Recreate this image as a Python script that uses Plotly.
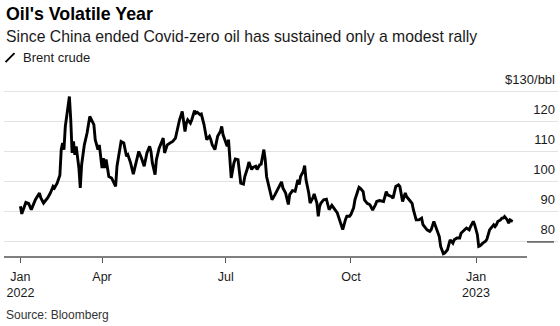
import plotly.graph_objects as go

# Brent crude, $/bbl
dates = [
    "2022-01-31", "2022-02-01", "2022-02-04", "2022-02-06", "2022-02-08", "2022-02-11",
    "2022-02-14", "2022-02-15", "2022-02-17", "2022-02-20", "2022-02-22", "2022-02-24",
    "2022-02-25", "2022-02-27", "2022-03-01", "2022-03-02", "2022-03-03", "2022-03-04",
    "2022-03-05", "2022-03-06", "2022-03-08", "2022-03-09", "2022-03-10", "2022-03-11",
    "2022-03-12", "2022-03-13", "2022-03-15", "2022-03-16", "2022-03-17", "2022-03-19",
    "2022-03-21", "2022-03-23", "2022-03-24", "2022-03-26", "2022-03-27", "2022-03-29",
    "2022-03-30", "2022-04-01", "2022-04-02", "2022-04-03", "2022-04-04", "2022-04-06",
    "2022-04-08", "2022-04-11", "2022-04-12", "2022-04-14", "2022-04-15", "2022-04-17",
    "2022-04-19", "2022-04-20", "2022-04-22", "2022-04-24", "2022-04-26", "2022-04-28",
    "2022-04-30", "2022-05-02", "2022-05-04", "2022-05-06", "2022-05-07", "2022-05-08",
    "2022-05-10", "2022-05-11", "2022-05-13", "2022-05-15", "2022-05-16", "2022-05-17",
    "2022-05-19", "2022-05-21", "2022-05-23", "2022-05-25", "2022-05-26", "2022-05-28",
    "2022-05-30", "2022-05-31", "2022-06-01", "2022-06-02", "2022-06-03", "2022-06-05",
    "2022-06-06", "2022-06-08", "2022-06-09", "2022-06-10", "2022-06-12", "2022-06-13",
    "2022-06-14", "2022-06-15", "2022-06-17", "2022-06-18", "2022-06-19", "2022-06-20",
    "2022-06-21", "2022-06-23", "2022-06-24", "2022-06-25", "2022-06-27", "2022-06-28",
    "2022-06-29", "2022-07-01", "2022-07-02", "2022-07-03", "2022-07-04", "2022-07-05",
    "2022-07-07", "2022-07-08", "2022-07-10", "2022-07-11", "2022-07-12", "2022-07-14",
    "2022-07-15", "2022-07-17", "2022-07-18", "2022-07-20", "2022-07-21", "2022-07-23",
    "2022-07-24", "2022-07-26", "2022-07-27", "2022-07-29", "2022-07-30", "2022-07-31",
    "2022-08-01", "2022-08-02", "2022-08-04", "2022-08-06", "2022-08-08", "2022-08-09",
    "2022-08-11", "2022-08-12", "2022-08-14", "2022-08-16", "2022-08-17", "2022-08-19",
    "2022-08-21", "2022-08-23", "2022-08-24", "2022-08-25", "2022-08-27", "2022-08-28",
    "2022-08-29", "2022-08-31", "2022-09-01", "2022-09-03", "2022-09-04", "2022-09-06",
    "2022-09-07", "2022-09-08", "2022-09-09", "2022-09-11", "2022-09-13", "2022-09-14",
    "2022-09-15", "2022-09-17", "2022-09-18", "2022-09-20", "2022-09-21", "2022-09-23",
    "2022-09-24", "2022-09-25", "2022-09-27", "2022-09-28", "2022-09-30", "2022-10-01",
    "2022-10-03", "2022-10-04", "2022-10-06", "2022-10-07", "2022-10-08", "2022-10-10",
    "2022-10-11", "2022-10-13", "2022-10-15", "2022-10-17", "2022-10-19", "2022-10-20",
    "2022-10-22", "2022-10-25", "2022-10-27", "2022-10-28", "2022-10-31", "2022-11-01",
    "2022-11-03", "2022-11-05", "2022-11-06", "2022-11-07", "2022-11-08", "2022-11-10",
    "2022-11-11", "2022-11-13", "2022-11-15", "2022-11-16", "2022-11-17", "2022-11-18",
    "2022-11-20", "2022-11-22", "2022-11-23", "2022-11-26", "2022-11-28", "2022-11-29",
    "2022-12-01", "2022-12-02", "2022-12-03", "2022-12-05", "2022-12-06", "2022-12-07",
    "2022-12-08", "2022-12-09", "2022-12-11", "2022-12-12", "2022-12-13", "2022-12-15",
    "2022-12-16", "2022-12-18", "2022-12-20", "2022-12-21", "2022-12-23", "2022-12-24",
    "2022-12-25", "2022-12-27", "2022-12-28", "2022-12-30", "2022-12-31", "2023-01-02",
    "2023-01-03", "2023-01-04", "2023-01-06", "2023-01-08", "2023-01-09", "2023-01-10",
    "2023-01-11", "2023-01-12", "2023-01-14", "2023-01-15", "2023-01-16", "2023-01-17",
    "2023-01-19", "2023-01-20", "2023-01-21", "2023-01-22", "2023-01-24", "2023-01-25",
    "2023-01-26", "2023-01-27", "2023-01-28",
]

brent = [
    91.8, 89.3, 93.1, 92.8, 90.7, 94.0,
    96.2, 94.6, 92.9, 94.6, 96.2, 98.4,
    97.9, 99.5, 102.1, 110.6, 112.8, 110.6,
    118.3, 121.6, 128.2, 120.5, 109.5, 113.3,
    108.9, 111.7, 104.5, 97.9, 105.6, 112.2,
    116.1, 121.6, 120.5, 118.9, 113.9, 110.6,
    112.2, 104.5, 107.8, 104.5, 107.3, 101.7,
    101.2, 98.4, 105.1, 110.0, 113.3, 112.8,
    108.4, 108.9, 106.2, 102.5, 106.2, 110.0,
    107.8, 105.1, 109.5, 111.7, 110.0, 106.2,
    102.3, 107.3, 111.1, 113.3, 114.4, 109.5,
    112.2, 112.8, 113.3, 114.4, 116.6, 120.5,
    123.3, 120.0, 116.6, 119.4, 120.5, 119.4,
    120.5, 123.5, 122.7, 123.0, 122.2, 122.4,
    120.5, 118.9, 113.9, 114.4, 115.0, 113.9,
    112.2, 110.6, 113.3, 115.0, 116.6, 118.3,
    115.5, 113.3, 111.7, 113.9, 105.6, 101.2,
    106.2, 107.5, 107.3, 102.3, 99.5, 99.2,
    101.7, 104.5, 106.5, 104.0, 104.7, 105.1,
    104.0, 105.6, 105.8, 110.6, 107.3, 101.7,
    99.5, 98.1, 94.0, 95.5, 97.3, 98.4,
    99.9, 97.9, 96.2, 92.4, 95.7, 97.0,
    96.8, 100.6, 99.0, 101.7, 103.4, 105.3,
    100.6, 96.2, 92.9, 94.6, 95.9, 92.9,
    88.5, 91.8, 92.9, 94.0, 94.2, 92.4,
    90.7, 92.1, 91.5, 90.4, 89.6, 86.8,
    85.7, 84.1, 87.4, 88.5, 88.5, 89.1,
    91.3, 94.0, 96.8, 98.1, 97.8, 96.7,
    93.9, 92.8, 92.3, 90.6, 92.3, 93.4,
    93.7, 93.4, 96.7, 95.6, 95.0, 94.5,
    98.4, 98.9, 98.4, 96.2, 93.4, 96.2,
    95.0, 93.9, 92.8, 90.6, 88.4, 87.3,
    87.3, 87.9, 85.7, 84.0, 83.5, 84.0,
    86.8, 85.7, 84.0, 81.8, 78.5, 76.9,
    76.1, 76.3, 77.4, 79.1, 80.7, 79.6,
    80.7, 81.3, 81.3, 82.9, 84.0, 84.2,
    84.6, 84.0, 85.1, 86.8, 85.7, 82.4,
    78.5, 78.7, 79.6, 80.2, 80.9, 82.9,
    84.0, 84.6, 85.7, 85.1, 85.7, 86.8,
    87.3, 87.9, 87.9, 88.4, 87.3, 86.2,
    87.3, 87.0, 86.8,
]

x_tick_dates = ["2022-01-31", "2022-04-01", "2022-07-01", "2022-10-01", "2023-01-01"]
x_tick_labels = ["Jan<br>2022", "Apr", "Jul", "Oct", "Jan<br>2023"]
y_tick_values = [80, 90, 100, 110, 120, 130]
y_tick_labels = ["80", "90", "100", "110", "120", "$130/bbl"]

title = "Oil's Volatile Year"
subtitle = "Since China ended Covid-zero oil has sustained only a modest rally"
series_name = "Brent crude"
source = "Source: Bloomberg"

# value range of the plot box; headroom above 130 leaves space for its label
Y_MIN, Y_MAX = 75, 138

# page geometry (pixels): 130 sits at y=91, 75 at y=257
W, H = 560, 326
PB = 257
PX_PER_UNIT = (257 - 91) / (130 - 75)
PT = PB - (Y_MAX - Y_MIN) * PX_PER_UNIT
PL, PR = 4, 558
AXIS_END = 527                      # where the baseline stops

FONT = "Liberation Sans, Arial, Helvetica, sans-serif"
INK = "#1a1a1a"


def fx(px):
    return (px - PL) / (PR - PL)


def fy(py):
    return (PB - py) / (PB - PT)


fig = go.Figure(
    go.Scatter(
        x=dates, y=brent, mode="lines", name=series_name,
        line=dict(color="#000000", width=2.9, shape="linear"),
        hoverinfo="skip",
    )
)

fig.update_layout(
    width=W, height=H,
    margin=dict(l=PL, r=W - PR, t=PT, b=H - PB, pad=0),
    paper_bgcolor="white", plot_bgcolor="white",
    showlegend=False,
    font=dict(family=FONT, color=INK),
)

fig.update_xaxes(
    type="date",
    range=["2022-01-18 22:00", "2023-03-02 07:00"],
    tickvals=x_tick_dates, ticktext=x_tick_labels,
    ticks="outside", ticklen=5, tickwidth=1, tickcolor="#555555",
    ticklabelstandoff=3,
    tickfont=dict(size=12.5, color=INK, family=FONT),
    showgrid=False, showline=False, zeroline=False,
    fixedrange=True,
)

fig.update_yaxes(
    range=[Y_MIN, Y_MAX], side="right",
    tickvals=y_tick_values, ticktext=y_tick_labels,
    ticklabelposition="inside top", ticks="",
    ticklabelshift=-3,
    tickfont=dict(size=13, color=INK, family=FONT),
    showgrid=True, gridcolor="#e2e2e2", gridwidth=1,
    showline=False, zeroline=False, fixedrange=True,
)

# baseline under the series and the short dark stub at the 80 line
fig.add_shape(type="line", xref="paper", yref="paper",
              x0=0, x1=fx(AXIS_END), y0=0, y1=0,
              line=dict(color="#555555", width=1.5))
fig.add_shape(type="line", xref="paper", yref="y",
              x0=fx(AXIS_END), x1=fx(554), y0=y_tick_values[0], y1=y_tick_values[0],
              line=dict(color="#555555", width=1.5))

# legend key: a short slanted stroke
fig.add_shape(type="line", xref="paper", yref="paper",
              x0=fx(5.5), x1=fx(14.5), y0=fy(62), y1=fy(53),
              line=dict(color="#000000", width=2))

annotations = [
    dict(text=f"<b>{title}</b>", x=fx(4), y=fy(14), size=17.8, color="#000000"),
    dict(text=subtitle, x=fx(4), y=fy(36), size=15.75, color=INK),
    dict(text=series_name, x=fx(21), y=fy(57.5), size=13, color=INK),
    dict(text=source, x=fx(4), y=fy(315), size=12, color="#333333"),
]
for a in annotations:
    fig.add_annotation(
        text=a["text"], x=a["x"], y=a["y"], xref="paper", yref="paper",
        xanchor="left", yanchor="middle", showarrow=False,
        font=dict(size=a["size"], color=a["color"], family=FONT),
    )

fig.write_html("out.html")
